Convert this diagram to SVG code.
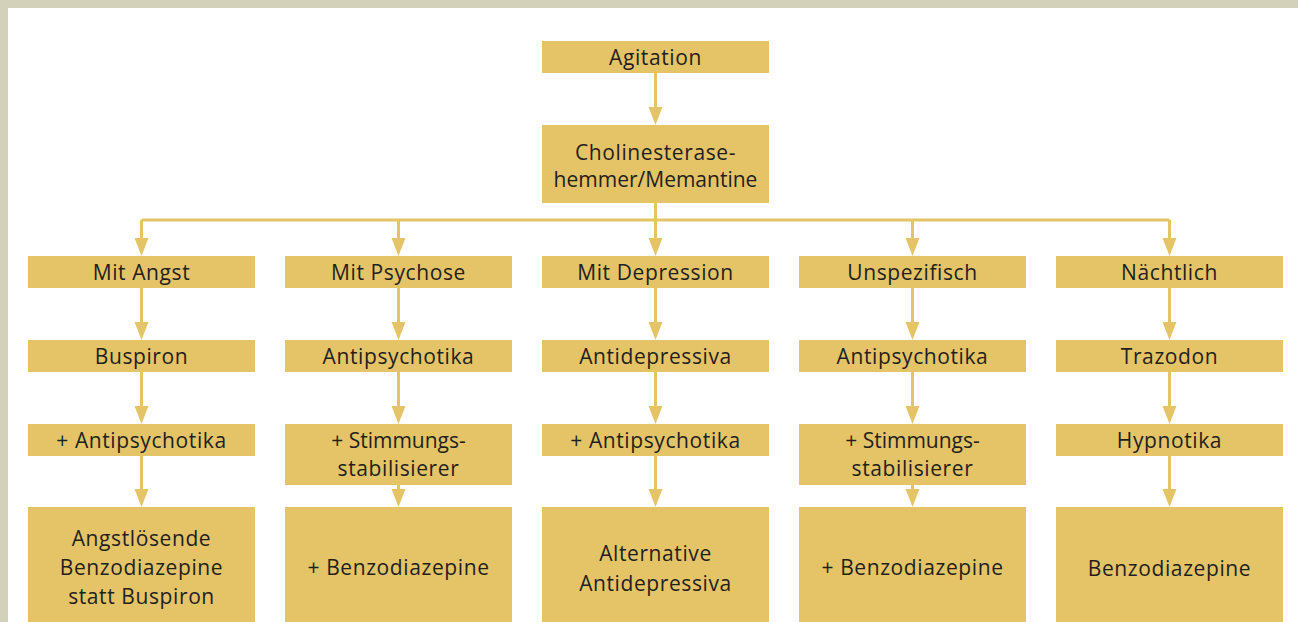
<svg xmlns="http://www.w3.org/2000/svg" width="1298" height="622" viewBox="0 0 1298 622">
<style>
.box{fill:#e5c468}
.t{font-family:"Open Sans","Noto Sans",sans-serif;font-size:21px;letter-spacing:0.6px;fill:#221f20;text-anchor:middle}
.n{letter-spacing:0px}
.c{stroke:#e5c468;stroke-width:3;fill:none}
.h{fill:#e5c468}
</style>
<rect x="0" y="0" width="1298" height="622" fill="#ffffff"/>
<rect x="0" y="0" width="1298" height="8" fill="#d4d1bb"/>
<rect x="0" y="0" width="8" height="622" fill="#d4d1bb"/>
<g id="connectors">
<path class="c" d="M655.5,73 V107"/><path class="h" d="M648.5,107 H662.5 L655.5,125 Z"/>
<path class="c" d="M655.5,203 V238"/>
<path class="c" d="M141.5,220 H1169.5"/>
<g id="c1">
<path class="c" d="M141.5,220 V238"/><path class="h" d="M134.5,238 H148.5 L141.5,256 Z"/>
<path class="c" d="M141.5,288 V322"/><path class="h" d="M134.5,322 H148.5 L141.5,340 Z"/>
<path class="c" d="M141.5,372 V406"/><path class="h" d="M134.5,406 H148.5 L141.5,424 Z"/>
<path class="c" d="M141.5,456 V489"/><path class="h" d="M134.5,489 H148.5 L141.5,507 Z"/>
</g>
<g id="c2">
<path class="c" d="M398.5,220 V238"/><path class="h" d="M391.5,238 H405.5 L398.5,256 Z"/>
<path class="c" d="M398.5,288 V322"/><path class="h" d="M391.5,322 H405.5 L398.5,340 Z"/>
<path class="c" d="M398.5,372 V406"/><path class="h" d="M391.5,406 H405.5 L398.5,424 Z"/>
<path class="c" d="M398.5,485 V489"/><path class="h" d="M391.5,489 H405.5 L398.5,507 Z"/>
</g>
<g id="c3">
<path class="h" d="M648.5,238 H662.5 L655.5,256 Z"/>
<path class="c" d="M655.5,288 V322"/><path class="h" d="M648.5,322 H662.5 L655.5,340 Z"/>
<path class="c" d="M655.5,372 V406"/><path class="h" d="M648.5,406 H662.5 L655.5,424 Z"/>
<path class="c" d="M655.5,456 V489"/><path class="h" d="M648.5,489 H662.5 L655.5,507 Z"/>
</g>
<g id="c4">
<path class="c" d="M912.5,220 V238"/><path class="h" d="M905.5,238 H919.5 L912.5,256 Z"/>
<path class="c" d="M912.5,288 V322"/><path class="h" d="M905.5,322 H919.5 L912.5,340 Z"/>
<path class="c" d="M912.5,372 V406"/><path class="h" d="M905.5,406 H919.5 L912.5,424 Z"/>
<path class="c" d="M912.5,485 V489"/><path class="h" d="M905.5,489 H919.5 L912.5,507 Z"/>
</g>
<g id="c5">
<path class="c" d="M1169.5,220 V238"/><path class="h" d="M1162.5,238 H1176.5 L1169.5,256 Z"/>
<path class="c" d="M1169.5,288 V322"/><path class="h" d="M1162.5,322 H1176.5 L1169.5,340 Z"/>
<path class="c" d="M1169.5,372 V406"/><path class="h" d="M1162.5,406 H1176.5 L1169.5,424 Z"/>
<path class="c" d="M1169.5,456 V489"/><path class="h" d="M1162.5,489 H1176.5 L1169.5,507 Z"/>
</g>
</g>
<g id="agitation"><rect class="box" x="542" y="41" width="227" height="32"/><text class="t" x="655.5" y="65">Agitation</text></g>
<g id="cholinesterase"><rect class="box" x="542" y="125" width="227" height="78"/><text class="t" x="655.5" y="160">Cholinesterase-</text><text class="t n" x="655.5" y="187">hemmer/Memantine</text></g>

<g id="angst"><rect class="box" x="28" y="256" width="227" height="32"/><text class="t" x="141.5" y="280">Mit Angst</text></g>
<g id="buspiron"><rect class="box" x="28" y="340" width="227" height="32"/><text class="t" x="141.5" y="364">Buspiron</text></g>
<g id="angst-antipsy"><rect class="box" x="28" y="424" width="227" height="32"/><text class="t" x="141.5" y="448">+ Antipsychotika</text></g>
<g id="angst-benzo"><rect class="box" x="28" y="507" width="227" height="115"/><text class="t" x="141.5" y="546">Angstlösende</text><text class="t" x="141.5" y="575">Benzodiazepine</text><text class="t" x="141.5" y="604">statt Buspiron</text></g>

<g id="psychose"><rect class="box" x="285" y="256" width="227" height="32"/><text class="t" x="398.5" y="280">Mit Psychose</text></g>
<g id="psy-antipsy"><rect class="box" x="285" y="340" width="227" height="32"/><text class="t" x="398.5" y="364">Antipsychotika</text></g>
<g id="psy-stimm"><rect class="box" x="285" y="424" width="227" height="61"/><text class="t n" x="398.5" y="448">+ Stimmungs-</text><text class="t" x="398.5" y="476">stabilisierer</text></g>
<g id="psy-benzo"><rect class="box" x="285" y="507" width="227" height="115"/><text class="t" x="398.5" y="575">+ Benzodiazepine</text></g>

<g id="depression"><rect class="box" x="542" y="256" width="227" height="32"/><text class="t" x="655.5" y="280">Mit Depression</text></g>
<g id="antidep"><rect class="box" x="542" y="340" width="227" height="32"/><text class="t" x="655.5" y="364">Antidepressiva</text></g>
<g id="dep-antipsy"><rect class="box" x="542" y="424" width="227" height="32"/><text class="t" x="655.5" y="448">+ Antipsychotika</text></g>
<g id="alt-antidep"><rect class="box" x="542" y="507" width="227" height="115"/><text class="t" x="655.5" y="561">Alternative</text><text class="t" x="655.5" y="591">Antidepressiva</text></g>

<g id="unspez"><rect class="box" x="799" y="256" width="227" height="32"/><text class="t" x="912.5" y="280">Unspezifisch</text></g>
<g id="un-antipsy"><rect class="box" x="799" y="340" width="227" height="32"/><text class="t" x="912.5" y="364">Antipsychotika</text></g>
<g id="un-stimm"><rect class="box" x="799" y="424" width="227" height="61"/><text class="t n" x="912.5" y="448">+ Stimmungs-</text><text class="t" x="912.5" y="476">stabilisierer</text></g>
<g id="un-benzo"><rect class="box" x="799" y="507" width="227" height="115"/><text class="t" x="912.5" y="575">+ Benzodiazepine</text></g>

<g id="naechtlich"><rect class="box" x="1056" y="256" width="227" height="32"/><text class="t" x="1169.5" y="280">Nächtlich</text></g>
<g id="trazodon"><rect class="box" x="1056" y="340" width="227" height="32"/><text class="t" x="1169.5" y="364">Trazodon</text></g>
<g id="hypnotika"><rect class="box" x="1056" y="424" width="227" height="32"/><text class="t" x="1169.5" y="448">Hypnotika</text></g>
<g id="benzo"><rect class="box" x="1056" y="507" width="227" height="115"/><text class="t" x="1169.5" y="576">Benzodiazepine</text></g>
</svg>
